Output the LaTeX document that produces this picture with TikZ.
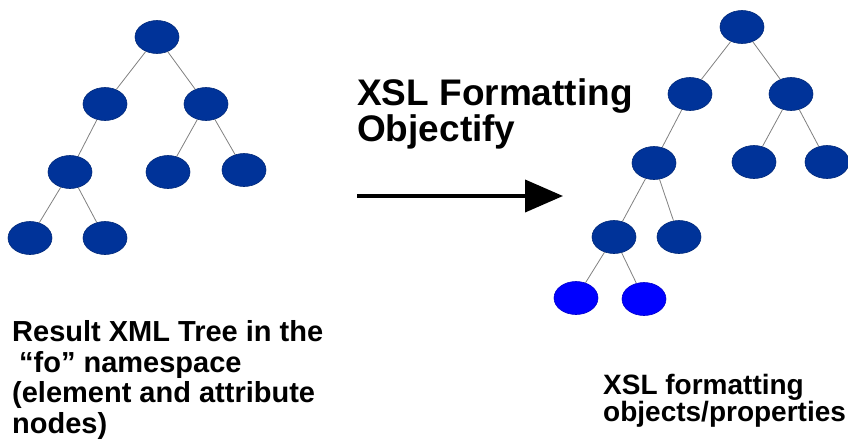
\documentclass[tikz,border=0pt]{standalone}
\usepackage{fontspec}
\setmainfont{Liberation Sans}
\usetikzlibrary{shapes.geometric,arrows.meta}
\definecolor{nodeblue}{RGB}{0,51,153}
\definecolor{leafblue}{RGB}{0,0,255}
\definecolor{edgegray}{RGB}{128,128,128}
\tikzset{
  tn/.style={ellipse, fill=nodeblue, draw=nodeblue!80!black, line width=0.6pt, minimum width=44pt, minimum height=33pt, inner sep=0pt},
  tnew/.style={tn, fill=leafblue, draw=leafblue!80!black},
  tedge/.style={draw=edgegray, line width=0.8pt},
  bigtext/.style={font=\fontsize{37}{36}\selectfont\bfseries, anchor=base west, inner sep=0pt, align=left},
  captext/.style={font=\fontsize{29}{30.5}\selectfont\bfseries, anchor=base west, inner sep=0pt, align=left},
}
\begin{document}
\begin{tikzpicture}[x=1pt,y=-1pt]
\useasboundingbox (0,0) rectangle (848,440);
% left tree
\node[tn] (a) at (157,37) {};
\node[tn] (a1) at (105,104) {};
\node[tn] (a2) at (206,104) {};
\node[tn] (a11) at (70,172) {};
\node[tn] (a21) at (168,172) {};
\node[tn] (a22) at (244,170) {};
\node[tn] (a111) at (30,238) {};
\node[tn] (a112) at (105,238) {};
\draw[tedge] (a) -- (a1);
\draw[tedge] (a) -- (a2);
\draw[tedge] (a1) -- (a11);
\draw[tedge] (a2) -- (a21);
\draw[tedge] (a2) -- (a22);
\draw[tedge] (a11) -- (a111);
\draw[tedge] (a11) -- (a112);
% right tree
\node[tn] (b) at (742,27) {};
\node[tn] (b1) at (690,94) {};
\node[tn] (b2) at (791,94) {};
\node[tn] (b11) at (654,163) {};
\node[tn] (b21) at (754,162) {};
\node[tn] (b22) at (827,162) {};
\node[tn] (b111) at (614,237) {};
\node[tn] (b112) at (679,237) {};
\node[tnew] (b1111) at (576,298) {};
\node[tnew] (b1112) at (644,299) {};
\draw[tedge] (b) -- (b1);
\draw[tedge] (b) -- (b2);
\draw[tedge] (b1) -- (b11);
\draw[tedge] (b2) -- (b21);
\draw[tedge] (b2) -- (b22);
\draw[tedge] (b11) -- (b111);
\draw[tedge] (b11) -- (b112);
\draw[tedge] (b111) -- (b1111);
\draw[tedge] (b111) -- (b1112);
% arrow and title
\node[bigtext] (title) at (357,141) {XSL Formatting\\Objectify};
\coordinate (arrs) at (357,196);
\coordinate (arre) at (563,196);
\draw[line width=4pt, -{Triangle[length=38pt,width=32pt]}] (arrs) -- (arre);
% captions
\node[captext] (lcap) at (12,433) {Result XML Tree in the\\\hspace{7pt}“fo” namespace\\(element and attribute\\nodes)};
\node[captext, font=\fontsize{28}{27}\selectfont\bfseries] (rcap) at (603,421) {XSL formatting\\objects/properties};
\end{tikzpicture}
\end{document}
